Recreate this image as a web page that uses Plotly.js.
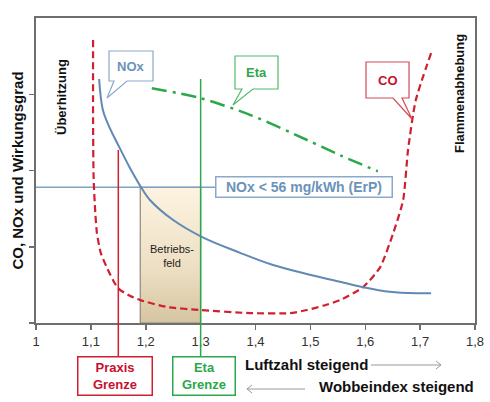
<!DOCTYPE html>
<html>
<head>
<meta charset="utf-8">
<script src="https://cdn.plot.ly/plotly-3.0.1.min.js"></script>
<style>
  html, body { margin: 0; padding: 0; background: #fff; }
  #chart { width: 490px; height: 402px; }
</style>
</head>
<body>
<div id="chart"></div>
<script>
// Luftzahl axis
const xTicks = [1, 1.1, 1.2, 1.3, 1.4, 1.5, 1.6, 1.7, 1.8];
const xTickLabels = ['1', '1,1', '1,2', '1,3', '1,4', '1,5', '1,6', '1,7', '1,8'];
const yTicks = [0, 1, 2, 3];

// CO emission over Luftzahl (U-shaped)
const coX = [1.104, 1.104, 1.105, 1.108, 1.111, 1.118, 1.129, 1.149, 1.17, 1.19, 1.239, 1.299,
             1.39, 1.463, 1.494, 1.525, 1.554, 1.596, 1.627, 1.651, 1.669, 1.678, 1.692, 1.72];
const coY = [3.71, 2.66, 1.90, 1.45, 1.18, 0.92, 0.73, 0.46, 0.36, 0.30, 0.21, 0.17,
             0.13, 0.13, 0.17, 0.23, 0.30, 0.47, 0.73, 1.18, 1.61, 2.27, 2.92, 3.54];

// NOx emission over Luftzahl
const noxX = [1.115, 1.122, 1.135, 1.148, 1.17, 1.195, 1.208, 1.25, 1.302, 1.372, 1.432,
              1.501, 1.554, 1.596, 1.645, 1.694, 1.72];
const noxY = [3.20, 2.79, 2.55, 2.36, 2.05, 1.74, 1.61, 1.35, 1.13, 0.92, 0.76,
              0.63, 0.54, 0.47, 0.41, 0.39, 0.39];

// Wirkungsgrad (Eta) over Luftzahl
const etaX = [1.211, 1.299, 1.39, 1.494, 1.554, 1.623];
const etaY = [3.08, 2.95, 2.73, 2.40, 2.20, 1.99];

// NOx limit according to ErP
const noxLimit = 1.78;
const noxLimitLabel = 'NOx < 56 mg/kWh (ErP)';

// Limits on the Luftzahl axis
const praxisGrenze = 1.15;
const etaGrenze = 1.30;
const betriebsfeldStart = 1.19;

// ---- layout helpers: pixel position -> paper fraction ----
const W = 490, H = 402;
const M = { l: 36, r: 15, t: 18, b: 79 };
const PW = W - M.l - M.r, PH = H - M.t - M.b;
const X = px => +((px - M.l) / PW).toFixed(4);
const Y = py => +((M.t + PH - py) / PH).toFixed(4);
const dataX = px => xTicks[0] + (px - M.l) / PW * (xTicks[xTicks.length - 1] - xTicks[0]);

// speech bubble: box corners, tail base on the bottom edge, tail tip
function bubble(x0, y0, x1, y1, ta, tb, tx, ty) {
  return `M${X(x0)},${Y(y0)} L${X(x1)},${Y(y0)} L${X(x1)},${Y(y1)} L${X(tb)},${Y(y1)} ` +
         `L${X(tx)},${Y(ty)} L${X(ta)},${Y(y1)} L${X(x0)},${Y(y1)} Z`;
}

const FONT = 'Liberation Sans, Arial, Helvetica, sans-serif';
const RED = '#d01f2e', BLUE = '#6b93ba', GREEN = '#2aa84a', GREY = '#6e6e6e';

const limitBoxLeft = 215, limitBoxRight = 393;

const traces = [
  { // Betriebsfeld
    x: [betriebsfeldStart, etaGrenze, etaGrenze, betriebsfeldStart, betriebsfeldStart],
    y: [0, 0, noxLimit, noxLimit, 0],
    mode: 'lines', fill: 'toself',
    fillgradient: { type: 'vertical', start: 0, stop: noxLimit,
      colorscale: [[0, '#d5c4a1'], [0.4, '#eddfc3'], [1, '#fdf3e1']] },
    line: { color: '#8f887c', width: 1.2 }, hoverinfo: 'skip'
  },
  { // NOx limit line
    x: [xTicks[0], dataX(limitBoxLeft)], y: [noxLimit, noxLimit],
    mode: 'lines', line: { color: '#7fa3c4', width: 1.5 }, hoverinfo: 'skip'
  },
  {
    name: 'CO', x: coX, y: coY, mode: 'lines',
    line: { color: RED, width: 2.2, dash: '7px,4px', shape: 'spline', smoothing: 0.6 }
  },
  {
    name: 'NOx', x: noxX, y: noxY, mode: 'lines',
    line: { color: '#6089b3', width: 2, shape: 'spline', smoothing: 1 }
  },
  {
    name: 'Eta', x: etaX, y: etaY, mode: 'lines',
    line: { color: GREEN, width: 2.5, dash: '15px,6px,3px,6px', shape: 'spline', smoothing: 0.8 }
  }
];

const shapes = [
  // Praxis-Grenze and Eta-Grenze verticals, continuing down into their labels
  { type: 'line', xref: 'x', yref: 'paper', x0: praxisGrenze, x1: praxisGrenze,
    y0: Y(356), y1: Y(150), line: { color: RED, width: 1.5 } },
  { type: 'line', xref: 'x', yref: 'paper', x0: etaGrenze, x1: etaGrenze,
    y0: Y(356), y1: Y(79), line: { color: GREEN, width: 1.5 } },
  // callouts
  { type: 'path', xref: 'paper', yref: 'paper', path: bubble(109, 51, 153, 81, 114, 127, 107, 98),
    fillcolor: '#fff', line: { color: '#8aaacb', width: 1.2 } },
  { type: 'path', xref: 'paper', yref: 'paper', path: bubble(235, 56, 278, 89, 242, 253, 233, 105),
    fillcolor: '#fff', line: { color: '#52b96a', width: 1.2 } },
  { type: 'path', xref: 'paper', yref: 'paper', path: bubble(366, 62, 409, 98, 393, 402, 412, 119),
    fillcolor: '#fff', line: { color: '#d24a55', width: 1.2 } },
  // direction arrows under the axis
  { type: 'line', xref: 'paper', yref: 'paper', x0: X(371), x1: X(441), y0: Y(365), y1: Y(365),
    line: { color: '#9a9a9a', width: 1 } },
  { type: 'path', xref: 'paper', yref: 'paper',
    path: `M${X(436)},${Y(361)} L${X(441)},${Y(365)} L${X(436)},${Y(369)}`,
    line: { color: '#9a9a9a', width: 1 } },
  { type: 'line', xref: 'paper', yref: 'paper', x0: X(247), x1: X(305), y0: Y(389), y1: Y(389),
    line: { color: '#9a9a9a', width: 1 } },
  { type: 'path', xref: 'paper', yref: 'paper',
    path: `M${X(252)},${Y(385)} L${X(247)},${Y(389)} L${X(252)},${Y(393)}`,
    line: { color: '#9a9a9a', width: 1 } }
];

const ann = (o) => Object.assign({ xref: 'paper', yref: 'paper', showarrow: false,
                                   xanchor: 'center', yanchor: 'middle' }, o);

const annotations = [
  ann({ x: X(62), y: Y(97), text: '<b>Überhitzung</b>', textangle: -90,
        font: { family: FONT, size: 13, color: '#111' } }),
  ann({ x: X(459), y: Y(94), text: '<b>Flammenabhebung</b>', textangle: -90,
        font: { family: FONT, size: 13, color: '#111' } }),
  ann({ x: X(131), y: Y(66), text: '<b>NOx</b>', font: { family: FONT, size: 13, color: BLUE } }),
  ann({ x: X(256.5), y: Y(72.5), text: '<b>Eta</b>', font: { family: FONT, size: 13, color: GREEN } }),
  ann({ x: X(387.5), y: Y(80), text: '<b>CO</b>', font: { family: FONT, size: 13, color: '#c8102e' } }),
  ann({ x: X((limitBoxLeft + limitBoxRight) / 2), y: Y(187), text: '<b>' + noxLimitLabel.replace('<', '&lt;') + '</b>',
        width: limitBoxRight - limitBoxLeft - 5, height: 17, bgcolor: '#fff',
        bordercolor: '#8aaacb', borderwidth: 1.5, borderpad: 1,
        font: { family: FONT, size: 14, color: BLUE } }),
  ann({ x: X(172), y: Y(256), text: 'Betriebs-<br>feld',
        font: { family: FONT, size: 11, color: '#222' } }),
  ann({ x: X(115), y: Y(376), text: '<b>Praxis<br>Grenze</b>', width: 71, height: 35,
        bgcolor: '#fff', bordercolor: RED, borderwidth: 1.5, borderpad: 1,
        font: { family: FONT, size: 13, color: '#c8102e' } }),
  ann({ x: X(204), y: Y(376), text: '<b>Eta<br>Grenze</b>', width: 59, height: 35,
        bgcolor: '#fff', bordercolor: GREEN, borderwidth: 1.5, borderpad: 1,
        font: { family: FONT, size: 13, color: GREEN } }),
  ann({ x: X(243), y: Y(365), xanchor: 'left', text: '<b>Luftzahl steigend</b>',
        font: { family: FONT, size: 15, color: '#111' } }),
  ann({ x: X(317), y: Y(387), xanchor: 'left', text: '<b>Wobbeindex steigend</b>',
        font: { family: FONT, size: 15, color: '#111' } })
];

const layout = {
  width: W, height: H,
  margin: M,
  paper_bgcolor: '#fff', plot_bgcolor: '#fff',
  font: { family: FONT, color: '#222' },
  showlegend: false,
  xaxis: {
    range: [xTicks[0], xTicks[xTicks.length - 1]],
    tickvals: xTicks, ticktext: xTickLabels,
    ticks: 'outside', ticklen: 5, tickwidth: 1.5, tickcolor: GREY,
    showline: true, linecolor: GREY, linewidth: 2, mirror: true,
    showgrid: false, zeroline: false, fixedrange: true,
    tickfont: { family: FONT, size: 13, color: '#333' }
  },
  yaxis: {
    range: [0, 4], tickvals: yTicks, showticklabels: false,
    ticks: 'outside', ticklen: 5, tickwidth: 1.5, tickcolor: GREY,
    showline: true, linecolor: GREY, linewidth: 2, mirror: true,
    showgrid: false, zeroline: false, fixedrange: true,
    title: { text: '<b>CO, NOx und Wirkungsgrad</b>', standoff: 2,
             font: { family: FONT, size: 15, color: '#111' } }
  },
  shapes: shapes,
  annotations: annotations
};

Plotly.newPlot('chart', traces, layout, { displayModeBar: false, staticPlot: true });
</script>
</body>
</html>
